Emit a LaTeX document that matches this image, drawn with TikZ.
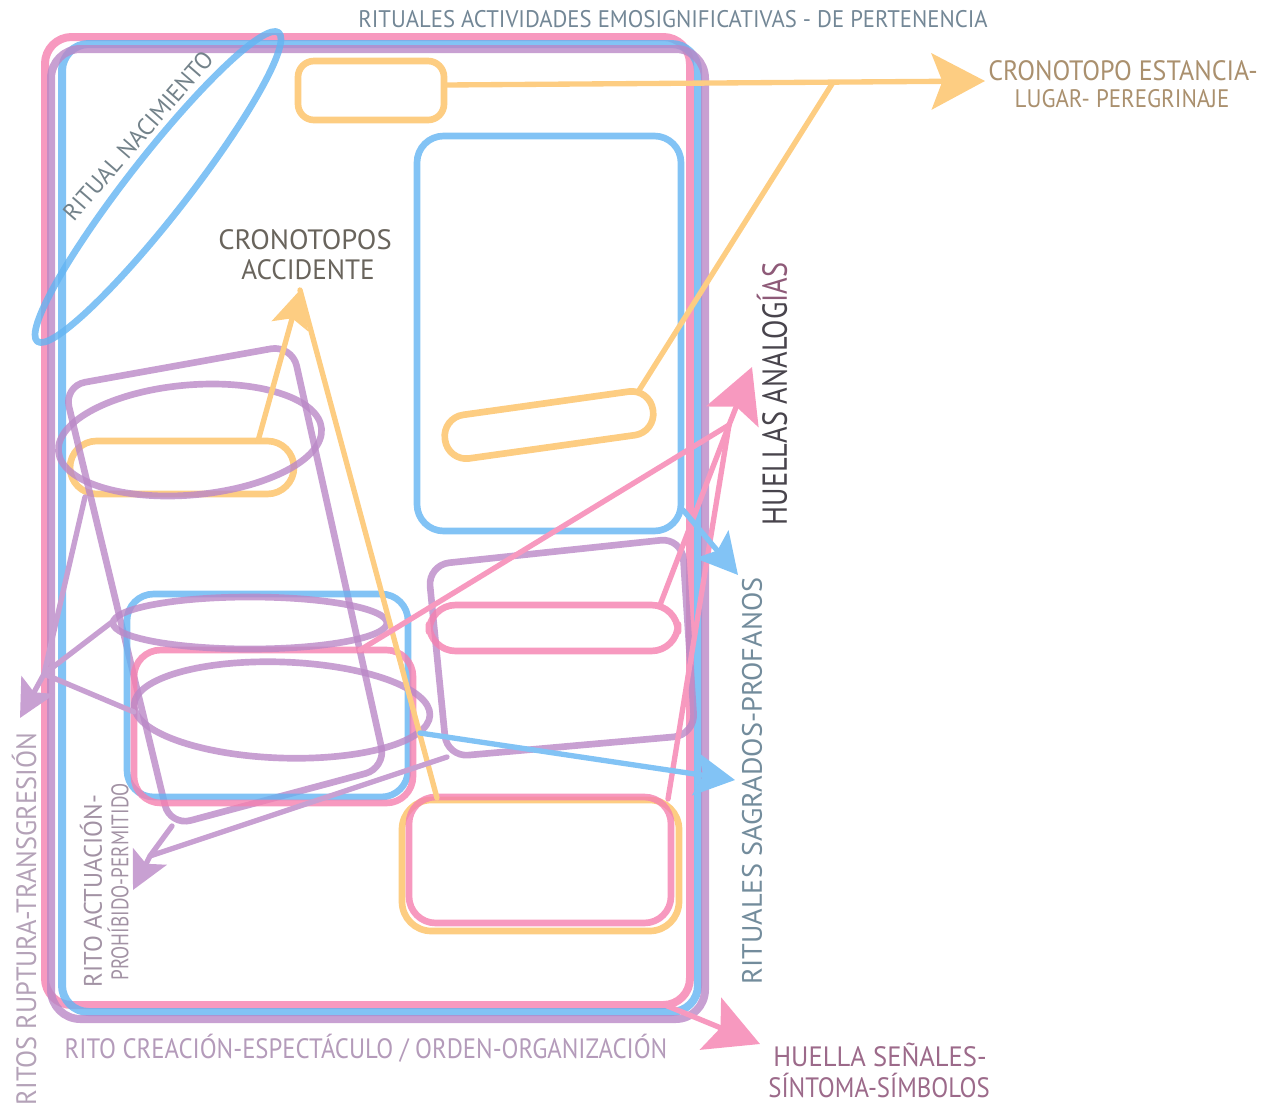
\documentclass[tikz,border=0pt]{standalone}
\usepackage{fontspec}
\setmainfont{PT Sans}
\usetikzlibrary{arrows.meta}
\definecolor{cpink}{RGB}{245,128,175}
\definecolor{cblue}{RGB}{99,180,242}
\definecolor{cpurp}{RGB}{186,136,199}
\definecolor{corng}{RGB}{252,192,99}
\definecolor{vpink}{RGB}{247,153,191}
\definecolor{vblue}{RGB}{130,195,245}
\definecolor{vpurp}{RGB}{200,160,210}
\definecolor{vorng}{RGB}{253,205,130}
\definecolor{ctitle}{RGB}{115,135,150}
\definecolor{cestan}{RGB}{170,144,110}
\definecolor{caccid}{RGB}{105,100,92}
\definecolor{cnac}{RGB}{115,130,138}
\definecolor{chuel}{RGB}{72,68,76}
\definecolor{chuelb}{RGB}{142,90,120}
\definecolor{csag}{RGB}{115,140,156}
\definecolor{crup}{RGB}{180,162,184}
\definecolor{cact}{RGB}{162,146,164}
\definecolor{ccrea}{RGB}{180,155,186}
\definecolor{csen}{RGB}{156,106,138}
\newcommand\fitx[3]{\resizebox{#1}{\height}{\fontsize{#2}{#2}\selectfont #3}}
\begin{document}
\begin{tikzpicture}[x=0.75pt,y=-0.75pt,line cap=round,line join=round,
  frame/.style={line width=6pt,opacity=0.8},
  shp/.style={line width=5pt,opacity=0.8},
  conn/.style={line width=4pt},
  bighead/.style={-{Stealth[length=40pt,width=42pt,inset=8pt]}},
  midhead/.style={-{Stealth[length=30pt,width=32pt,inset=6pt]}},
  smlhead/.style={-{Stealth[length=28pt,width=28pt,inset=6pt]}},
  lbl/.style={inner sep=0pt}]
\useasboundingbox (0,0) rectangle (1270,1110);
% big frames
\draw[frame,cpink,rounded corners=20pt] (45,37) rectangle (690,1005);
\draw[frame,cblue,rounded corners=20pt] (62,44) rectangle (698,1012);
\draw[frame,cpurp,rounded corners=22pt] (51,49) rectangle (705,1019);
% blue diagonal ellipse
\draw[shp,cblue,rotate around={52:(158,187)}] (158,187) ellipse [x radius=196, y radius=30];
% top orange box
\draw[shp,corng,rounded corners=12pt] (298,61) rectangle (444,120);
% tall blue box
\draw[shp,cblue,rounded corners=20pt] (417,136) rectangle (681,531);
% orange pill in blue box
\draw[shp,corng,rotate around={8:(549,425)},rounded corners=16pt] (444,403) rectangle (654,447);
% left orange pill
\draw[shp,corng,rounded corners=20pt] (70,441) rectangle (294,494);
% purple tilted quadrilateral
\draw[shp,cpurp,rounded corners=16pt] (64,386) -- (292,345) -- (386,768) -- (170,826) -- cycle;
% purple ellipses
\draw[shp,cpurp,rotate around={5:(190,440)}] (190,440) ellipse [x radius=132, y radius=55];
% small blue and pink boxes
\draw[shp,cblue,rounded corners=20pt] (127,594) rectangle (408,797);
\draw[shp,cpink,rounded corners=20pt] (134,650) rectangle (413,803);
\draw[shp,cpurp] (250,623) ellipse [x radius=137, y radius=26];
\draw[shp,cpurp,rotate around={-2:(282,710)}] (282,710) ellipse [x radius=148, y radius=48];
% right purple tilted box and pink pill
\draw[shp,cpurp,rounded corners=16pt] (428,565) -- (682,538) -- (695,735) -- (447,757) -- cycle;
\draw[shp,cpink,rounded corners=20pt] (429,605) rectangle (678,651);
% lower orange and pink boxes
\draw[shp,corng,rounded corners=22pt] (402,800) rectangle (679,931);
\draw[shp,cpink,rounded corners=20pt] (409,797) rectangle (671,923);

% connector coordinates
\coordinate (oRect) at (446,85);
\coordinate (oJ) at (832,84);
\coordinate (oTip) at (985,81);
\coordinate (oPillTop) at (638,392);
\coordinate (aTip) at (300,290);
\coordinate (oPill2) at (258,441);
\coordinate (oBig) at (437,798);
\coordinate (pJ1) at (44,674);
\coordinate (pTip1) at (20,718);
\coordinate (e1L) at (85,497);
\coordinate (e2L) at (112,622);
\coordinate (e3L) at (134,712);
\coordinate (qBL) at (172,826);
\coordinate (rBL) at (447,757);
\coordinate (pJ2) at (150,856);
\coordinate (pTip2) at (133,890);
\coordinate (kJ) at (729,425);
\coordinate (kTip) at (752,367);
\coordinate (pillTR) at (660,605);
\coordinate (prTop) at (360,650);
\coordinate (lowTR) at (668,799);
\coordinate (frBR) at (665,1005);
\coordinate (kTip2) at (760,1044);
\coordinate (bR1) at (683,510);
\coordinate (bTip1) at (738,575);
\coordinate (bR2) at (420,733);
\coordinate (bTip2) at (735,780);

% orange connectors
\draw[conn,vorng,bighead] (oRect) -- (oTip);
\draw[conn,vorng] (oPillTop) -- (oJ);
\draw[conn,vorng] (oBig) -- (aTip);
\draw[conn,vorng,smlhead] (oPill2) -- (aTip);
% purple connectors
\draw[conn,vpurp] (e1L) -- (pJ1) -- (e2L);
\draw[conn,vpurp] (pJ1) -- (e3L);
\draw[conn,vpurp,smlhead] (pJ1) -- (pTip1);
\draw[conn,vpurp] (qBL) -- (pJ2) -- (rBL);
\draw[conn,vpurp,smlhead] (pJ2) -- (pTip2);
% pink connectors
\draw[conn,vpink] (pillTR) -- (kJ);
\draw[conn,vpink] (prTop) -- (kJ);
\draw[conn,vpink] (lowTR) -- (kJ);
\draw[conn,vpink,bighead] (kJ) -- (kTip);
\draw[conn,vpink,bighead] (frBR) -- (kTip2);
% blue connectors
\draw[conn,vblue,midhead] (bR1) -- (bTip1);
\draw[conn,vblue,midhead] (bR2) -- (bTip2);

% labels
\node[lbl,text=ctitle] (title) at (673,19) {\fitx{472pt}{18pt}{RITUALES ACTIVIDADES EMOSIGNIFICATIVAS - DE PERTENENCIA}};
\node[lbl,text=cestan] (est1) at (1123,71) {\fitx{202pt}{21pt}{CRONOTOPO ESTANCIA-}};
\node[lbl,text=cestan] (est2) at (1122,99) {\fitx{161pt}{19pt}{LUGAR- PEREGRINAJE}};
\node[lbl,text=caccid] (acc1) at (305,240) {\fitx{130pt}{21pt}{CRONOTOPOS}};
\node[lbl,text=caccid] (acc2) at (308,270) {\fitx{100pt}{21pt}{ACCIDENTE}};
\node[lbl,text=cnac,rotate=49] (nac) at (138,136) {\fitx{161pt}{18pt}{RITUAL NACIMIENTO}};
\node[lbl,rotate=90] (huel) at (772,394) {\fitx{197pt}{26pt}{\textcolor{chuel}{HUELLAS ANALOG}\textcolor{chuelb}{ÍAS}}};
\node[lbl,text=csag,rotate=90] (sag) at (752,781) {\fitx{305pt}{21pt}{RITUALES SAGRADOS-PROFANOS}};
\node[lbl,text=crup,rotate=90] (rup) at (24,919) {\fitx{279pt}{21pt}{RITOS RUPTURA-TRANSGRESIÓN}};
\node[lbl,text=cact,rotate=90] (act1) at (91,891) {\fitx{144pt}{19pt}{RITO ACTUACIÓN-}};
\node[lbl,text=cact,rotate=90] (act2) at (118,882) {\fitx{148pt}{18pt}{PROHÍBIDO-PERMITIDO}};
\node[lbl,text=ccrea] (crea) at (366,1048) {\fitx{452pt}{21pt}{RITO CREACIÓN-ESPECTÁCULO / ORDEN-ORGANIZACIÓN}};
\node[lbl,text=csen] (sen1) at (880,1055) {\fitx{160pt}{21pt}{HUELLA SEÑALES-}};
\node[lbl,text=csen] (sen2) at (879,1085) {\fitx{166pt}{21pt}{SÍNTOMA-SÍMBOLOS}};
\end{tikzpicture}
\end{document}
